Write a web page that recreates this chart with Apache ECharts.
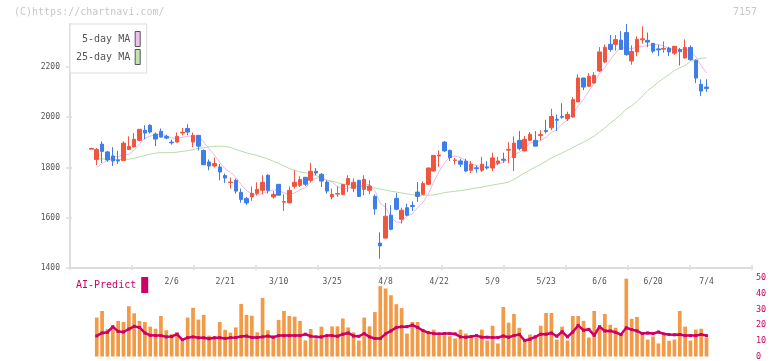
<!DOCTYPE html>
<html><head><meta charset="utf-8">
<script src="https://cdn.jsdelivr.net/npm/echarts@6/dist/echarts.min.js"></script>
<style>html,body{margin:0;padding:0;background:#fff}#c{width:772px;height:361px}</style>
</head><body><div id="c"></div>
<script>
const dates = ['1/16','1/17','1/20','1/21','1/22','1/23','1/24','1/27','1/28','1/29','1/30','1/31','2/3','2/4','2/5','2/6','2/7','2/10','2/12','2/13','2/14','2/17','2/18','2/19','2/20','2/21','2/25','2/26','2/27','2/28','3/3','3/4','3/5','3/6','3/7','3/10','3/11','3/12','3/13','3/14','3/17','3/18','3/19','3/21','3/24','3/25','3/26','3/27','3/28','3/31','4/1','4/2','4/3','4/4','4/7','4/8','4/9','4/10','4/11','4/14','4/15','4/16','4/17','4/18','4/21','4/22','4/23','4/24','4/25','4/28','4/30','5/1','5/2','5/7','5/8','5/9','5/12','5/13','5/14','5/15','5/16','5/19','5/20','5/21','5/22','5/23','5/26','5/27','5/28','5/29','5/30','6/2','6/3','6/4','6/5','6/6','6/9','6/10','6/11','6/12','6/13','6/16','6/17','6/18','6/19','6/20','6/23','6/24','6/25','6/26','6/27','6/30','7/1','7/2','7/3','7/4'];
const tickLabels = ['2/6','2/21','3/10','3/25','4/8','4/22','5/9','5/23','6/6','6/20','7/4'];
const open = [1873,1832,1893,1862,1846,1830,1828,1872,1882,1908,1948,1968,1933,1944,1924,1901,1901,1937,1955,1901,1928,1868,1822,1806,1802,1768,1740,1749,1701,1677,1683,1697,1709,1769,1683,1733,1662,1659,1725,1729,1761,1749,1785,1773,1742,1683,1694,1692,1732,1717,1749,1713,1709,1685,1499,1519,1610,1677,1594,1640,1649,1702,1693,1733,1786,1846,1901,1868,1828,1826,1825,1789,1799,1789,1802,1798,1817,1833,1869,1839,1908,1866,1908,1908,1927,1947,1958,1992,2003,1994,2001,2061,2156,2123,2136,2184,2220,2290,2290,2307,2337,2224,2260,2308,2306,2294,2272,2271,2275,2255,2269,2236,2278,2226,2131,2120];
const close = [1876,1872,1864,1830,1826,1826,1897,1884,1912,1952,1937,1941,1913,1921,1917,1898,1924,1940,1941,1928,1885,1811,1806,1816,1782,1758,1742,1706,1673,1659,1697,1713,1741,1709,1693,1690,1664,1709,1741,1752,1733,1785,1778,1746,1706,1693,1696,1732,1756,1741,1685,1753,1726,1635,1488,1606,1554,1634,1630,1610,1645,1685,1736,1798,1848,1849,1866,1839,1830,1813,1786,1813,1795,1813,1798,1838,1826,1829,1872,1897,1875,1912,1932,1885,1931,1943,2003,1988,2000,2011,2070,2156,2120,2163,2167,2260,2278,2270,2309,2270,2249,2262,2310,2312,2299,2263,2268,2274,2260,2282,2261,2278,2229,2156,2104,2114];
const low = [1873,1809,1818,1822,1806,1814,1826,1870,1880,1904,1912,1935,1885,1919,1912,1891,1900,1928,1928,1881,1868,1810,1789,1800,1749,1738,1716,1696,1660,1651,1667,1689,1693,1696,1676,1689,1627,1657,1716,1722,1726,1741,1769,1722,1696,1673,1683,1690,1702,1702,1684,1689,1693,1612,1437,1517,1550,1630,1577,1606,1627,1663,1692,1732,1784,1802,1862,1826,1812,1802,1781,1778,1779,1782,1792,1786,1809,1819,1818,1786,1868,1864,1906,1884,1908,1935,1948,1945,1994,1985,1998,2060,2108,2122,2135,2180,2215,2261,2265,2268,2245,2209,2243,2293,2279,2255,2243,2257,2243,2248,2206,2234,2225,2136,2084,2101];
const high = [1878,1877,1904,1866,1881,1866,1904,1924,1937,1953,1968,1972,1939,1955,1931,1911,1939,1957,1972,1939,1929,1872,1832,1840,1814,1776,1760,1756,1716,1683,1725,1741,1769,1773,1706,1734,1693,1725,1789,1765,1762,1818,1798,1778,1749,1716,1725,1735,1769,1756,1750,1769,1749,1693,1542,1659,1650,1698,1640,1656,1665,1742,1745,1800,1850,1868,1905,1871,1838,1835,1835,1826,1808,1842,1825,1859,1842,1859,1901,1924,1945,1925,1941,1945,1948,1990,2034,2011,2056,2022,2080,2170,2157,2176,2180,2279,2289,2327,2327,2343,2371,2286,2322,2362,2337,2295,2288,2302,2280,2284,2276,2310,2286,2230,2151,2151];
const ma5 = [null,1800,1815,1830,1842,1844,1849,1853,1869,1894,1916,1925,1931,1933,1926,1918,1915,1920,1924,1926,1924,1901,1874,1849,1820,1795,1781,1761,1732,1708,1695,1690,1697,1704,1711,1709,1699,1693,1699,1711,1720,1744,1758,1759,1750,1742,1724,1715,1717,1724,1722,1733,1732,1708,1657,1642,1602,1583,1582,1607,1615,1641,1661,1695,1742,1783,1819,1840,1846,1839,1827,1816,1807,1804,1801,1811,1814,1821,1833,1852,1860,1877,1898,1900,1907,1921,1939,1950,1973,1989,2014,2045,2071,2104,2135,2173,2198,2228,2257,2277,2275,2272,2280,2281,2286,2289,2290,2283,2273,2269,2269,2271,2262,2241,2206,2176];
const ma25 = [null,1835,1834,1833,1832,1832,1832,1833,1837,1842,1848,1853,1857,1859,1859,1859,1861,1864,1867,1871,1876,1879,1882,1884,1885,1884,1879,1872,1865,1858,1853,1848,1841,1834,1825,1816,1806,1796,1789,1782,1779,1775,1768,1759,1750,1745,1740,1734,1731,1729,1727,1725,1723,1718,1714,1710,1706,1702,1699,1695,1692,1689,1689,1690,1691,1695,1700,1703,1705,1708,1711,1715,1719,1722,1726,1730,1734,1737,1742,1752,1766,1778,1790,1802,1812,1825,1838,1848,1858,1868,1880,1891,1900,1912,1925,1941,1958,1977,1993,2012,2032,2045,2062,2085,2106,2122,2140,2155,2170,2186,2197,2206,2222,2230,2234,2237];
const volume = [null,24.8,29,17.5,18.3,22.7,22,32,27.5,22.7,22,19,17.7,25.8,16.7,14.2,15.4,9.6,24.8,31,23.5,26.5,13.3,12.3,22,17,15.2,18.5,33.5,26.5,26,15.4,37.3,16.7,13.3,23.3,29,25.8,25.4,22.7,10.2,17.5,11,19,12.3,19.2,19.2,24.2,18.5,15.4,10.2,24.8,19.2,28.3,44.8,43.3,39,33.3,30.8,14.6,22,22,16.3,15.6,17.1,13.1,13.5,12.9,11.5,17.1,14.6,12.1,12.1,17.1,10.2,19.6,8.3,31.5,21.5,27.1,18.3,9.6,14,13.5,19.6,27.7,27.7,10.8,19,10.2,25.8,25.8,22.7,12.1,29,19,27.1,20.2,18.3,14.6,49.6,24,25.2,14,10.8,12.7,8.3,13.3,10,10.8,29,19,10.2,17.1,17.7,12.1];
const aiPredict = [null,13.1,15,15.4,19,16,15.6,17.5,19.2,18.5,15,13.5,13.3,13.3,12.5,12.7,14.2,10.6,12,12.5,11.9,11.9,11.3,11.9,12,11.5,12,12.1,12.7,13,12.1,12.1,12.5,13,12.3,13.3,13.3,13.3,13.3,13.3,14.2,12.9,12.5,12.5,13.3,13.3,12.9,14.2,15,13.1,12.9,14.6,12.5,11.5,11.5,14.4,16.3,18.5,19,19,20,18.5,16.5,15.2,14.6,14.4,14.6,14.6,14.4,12.5,12.3,12.7,13.3,12.3,12.3,12.1,12.1,13.1,12.3,13.3,14,10.2,11,12.5,14.2,14.2,15,12.9,15.8,12.5,15.6,19.8,16.7,17.3,13.5,19,16.3,16.3,15.4,14,18.3,17.1,16.3,14.6,15,14.6,15.6,14.4,14,13.8,14,13.3,13.3,13.3,14,13.3];
const priceTicks = [1400,1600,1800,2000,2200];

const mono = '"DejaVu Sans Mono", monospace';
const candleData = dates.map((d, i) => [i, open[i], close[i], low[i], high[i]]);
const pts = arr => dates.map((d, i) => [i, arr[i]]).filter(p => p[1] != null);
const labelIdx = tickLabels.map(t => dates.indexOf(t));

const chart = echarts.init(document.getElementById('c'), null, {renderer: 'canvas'});
const axisGray = '#dddddd';
chart.setOption({
  animation: false,
  backgroundColor: '#ffffff',
  title: [
    {text: '(C)https://chartnavi.com/', left: 14, top: 7, padding: 0,
     textStyle: {fontFamily: mono, fontSize: 10, fontWeight: 'normal', color: '#c8c8c8'}},
    {text: '7157', right: 15, top: 7, padding: 0,
     textStyle: {fontFamily: mono, fontSize: 10, fontWeight: 'normal', color: '#c8c8c8'}}
  ],
  legend: [
    {data: [
      {name: '5-day MA', itemStyle: {color: '#f0c0f0', borderColor: '#555', borderWidth: 1}},
      {name: '25-day MA', itemStyle: {color: '#c0e4b4', borderColor: '#555', borderWidth: 1}}],
     icon: 'rect', orient: 'vertical', align: 'right', left: 70, top: 24,
     itemWidth: 5, itemHeight: 15, itemGap: 2, padding: [7, 6, 8, 6],
     borderColor: '#dddddd', borderWidth: 1, backgroundColor: '#ffffff', selectedMode: false,
     textStyle: {fontFamily: mono, fontSize: 10, color: '#555555'}},
    {data: [{name: 'AI-Predict', itemStyle: {color: '#cc0066', borderWidth: 0}}],
     icon: 'rect', align: 'right', left: 76, top: 277, itemWidth: 7, itemHeight: 16, padding: 0,
     selectedMode: false,
     textStyle: {fontFamily: mono, fontSize: 10, color: '#cc0066'}}
  ],
  grid: [
    {left: 70, right: 20, top: 24, bottom: 93},
    {left: 70, right: 20, top: 278, bottom: 3}
  ],
  xAxis: [
    {type: 'value', gridIndex: 0, position: 'bottom', min: -4, max: 123.5,
     axisLine: {show: false, onZero: false}, axisTick: {show: false}, splitLine: {show: false},
     axisLabel: {customValues: labelIdx, formatter: v => dates[Math.round(v)],
       fontFamily: mono, fontSize: 8, color: '#555555', margin: 10}},
    {type: 'value', gridIndex: 0, position: 'bottom', min: 0, max: 11, interval: 1,
     axisLine: {show: true, onZero: false, lineStyle: {color: axisGray, width: 2}},
     axisTick: {show: true, length: 2, lineStyle: {color: axisGray, width: 1.5}},
     axisLabel: {show: false}, splitLine: {show: false}},
    {type: 'value', gridIndex: 0, position: 'bottom', min: 0, max: 11, interval: 1,
     axisLine: {show: false, onZero: false},
     axisTick: {show: true, inside: true, length: 3, lineStyle: {color: axisGray, width: 1.5}},
     axisLabel: {show: false}, splitLine: {show: false}},
    {type: 'value', gridIndex: 1, position: 'bottom', min: -4, max: 123.5, show: false}
  ],
  yAxis: [
    {type: 'value', gridIndex: 0, min: 1400, max: 2371, position: 'left',
     axisLine: {show: true, onZero: false, lineStyle: {color: axisGray, width: 2}},
     axisTick: {show: true, customValues: priceTicks, length: 4, lineStyle: {color: axisGray, width: 1.5}},
     axisLabel: {customValues: priceTicks, formatter: v => String(v), fontFamily: mono, fontSize: 8, color: '#555555', margin: 10},
     splitLine: {show: false}},
    {type: 'value', gridIndex: 0, min: 1400, max: 2371, position: 'left',
     axisLine: {show: false, onZero: false},
     axisTick: {show: true, inside: true, customValues: priceTicks, length: 2, lineStyle: {color: axisGray, width: 1.5}},
     axisLabel: {show: false}, splitLine: {show: false}},
    {type: 'value', gridIndex: 1, min: 0, max: 50, interval: 10, position: 'right',
     axisLine: {show: false, onZero: false}, axisTick: {show: false}, splitLine: {show: false},
     axisLabel: {formatter: v => String(v), fontFamily: mono, fontSize: 8.5, color: '#cc0066', margin: 4}}
  ],
  series: [
    {name: '25-day MA', type: 'line', xAxisIndex: 0, yAxisIndex: 0, data: pts(ma25),
     showSymbol: false, z: 2, color: '#b8dcaa', lineStyle: {color: '#b8dcaa', width: 1}},
    {name: '5-day MA', type: 'line', xAxisIndex: 0, yAxisIndex: 0, data: pts(ma5),
     showSymbol: false, z: 2, color: '#ecb8ec', lineStyle: {color: '#ecb8ec', width: 1}},
    {name: 'Price', type: 'candlestick', xAxisIndex: 0, yAxisIndex: 0, data: candleData,
     barWidth: 4, z: 3,
     itemStyle: {color: '#f0553f', color0: '#3f7de8', borderColor: '#f0553f', borderColor0: '#3f7de8', borderWidth: 1}},
    {name: 'Volume', type: 'bar', xAxisIndex: 3, yAxisIndex: 2, data: pts(volume),
     barWidth: 3.7, itemStyle: {color: '#f29a46'}},
    {name: 'AI-Predict', type: 'line', xAxisIndex: 3, yAxisIndex: 2, data: pts(aiPredict),
     color: '#cc0066', showSymbol: true, symbol: 'rect', symbolSize: 3,
     itemStyle: {color: '#cc0066'}, lineStyle: {color: '#cc0066', width: 2.5}}
  ]
});
</script></body></html>
